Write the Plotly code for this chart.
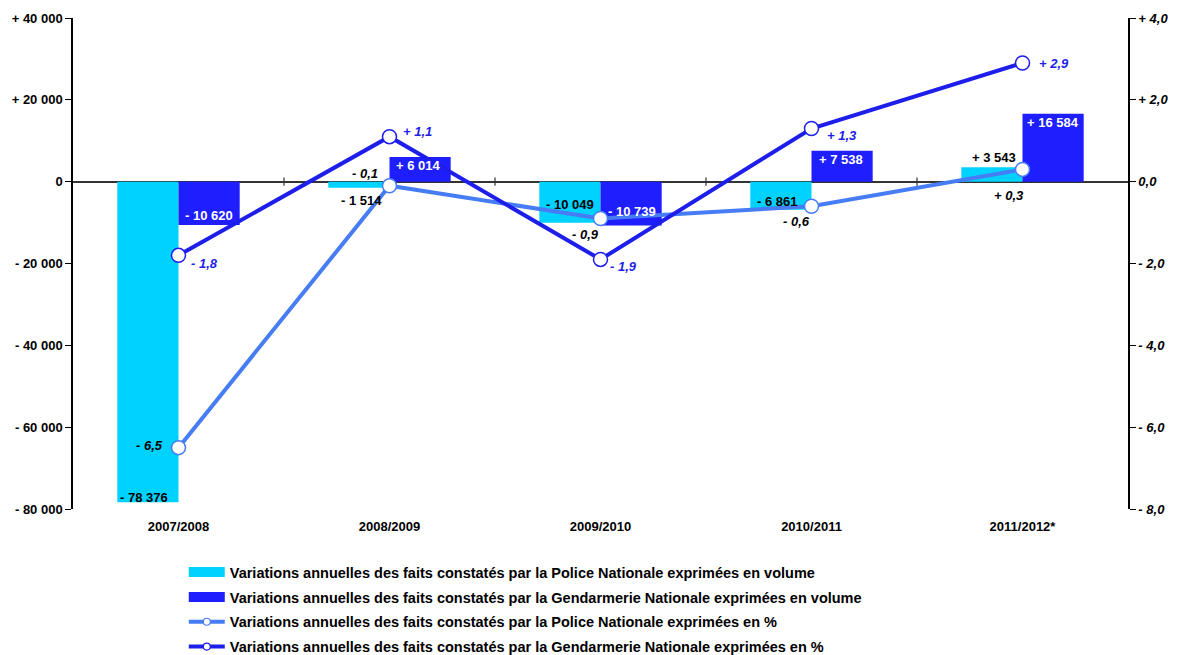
import plotly.graph_objects as go

categories = ["2007/2008", "2008/2009", "2009/2010", "2010/2011", "2011/2012*"]
police_vol = [-78376, -1514, -10049, -6861, 3543]
gend_vol = [-10620, 6014, -10739, 7538, 16584]
police_pct = [-6.5, -0.1, -0.9, -0.6, 0.3]
gend_pct = [-1.8, 1.1, -1.9, 1.3, 2.9]

police_vol_text = ["- 78 376", "- 1 514", "- 10 049", "- 6 861", "+ 3 543"]
gend_vol_text = ["- 10 620", "+ 6 014", "- 10 739", "+ 7 538", "+ 16 584"]
police_pct_text = ["- 6,5", "- 0,1", "- 0,9", "- 0,6", "+ 0,3"]
gend_pct_text = ["- 1,8", "+ 1,1", "- 1,9", "+ 1,3", "+ 2,9"]

left_tickvals = [40000, 20000, 0, -20000, -40000, -60000, -80000]
left_ticktext = ["+ 40 000", "+ 20 000", "0", "- 20 000", "- 40 000", "- 60 000", "- 80 000"]
right_tickvals = [4, 2, 0, -2, -4, -6, -8]
right_ticktext = ["+ 4,0", "+ 2,0", "0,0", "- 2,0", "- 4,0", "- 6,0", "- 8,0"]

legend_names = [
    "Variations annuelles des faits constatés par la Police Nationale exprimées en volume",
    "Variations annuelles des faits constatés par la Gendarmerie Nationale exprimées en volume",
    "Variations annuelles des faits constatés par la Police Nationale exprimées en %",
    "Variations annuelles des faits constatés par la Gendarmerie Nationale exprimées en %",
]

CYAN = "rgb(0,210,255)"
DBLUE = "rgb(30,30,255)"
LBLUE_LINE = "rgb(70,125,245)"
DBLUE_LINE = "rgb(30,30,235)"
FONT = "Liberation Sans, Arial, sans-serif"

fig = go.Figure()

# Bars (legend drawn by proxy traces below)
fig.add_trace(go.Bar(x=categories, y=police_vol, name=legend_names[0],
                     marker=dict(color=CYAN, line=dict(width=0)),
                     showlegend=False, hoverinfo="skip"))
fig.add_trace(go.Bar(x=categories, y=gend_vol, name=legend_names[1],
                     marker=dict(color=DBLUE, line=dict(width=0)),
                     showlegend=False, hoverinfo="skip"))
fig.add_trace(go.Scatter(x=categories, y=police_pct, name=legend_names[2], yaxis="y2",
                         mode="lines+markers", line=dict(color=LBLUE_LINE, width=4),
                         marker=dict(size=14, color="white", line=dict(color=LBLUE_LINE, width=1.5)),
                         cliponaxis=False, showlegend=False, hoverinfo="skip"))
fig.add_trace(go.Scatter(x=categories, y=gend_pct, name=legend_names[3], yaxis="y2",
                         mode="lines+markers", line=dict(color=DBLUE_LINE, width=4),
                         marker=dict(size=14, color="white", line=dict(color=DBLUE_LINE, width=1.5)),
                         cliponaxis=False, showlegend=False, hoverinfo="skip"))

# Legend proxies
fig.add_trace(go.Scatter(x=[None], y=[None], mode="lines", name=legend_names[0],
                         line=dict(color=CYAN, width=10), legendgroup="a"))
fig.add_trace(go.Scatter(x=[None], y=[None], mode="lines", name=legend_names[1],
                         line=dict(color=DBLUE, width=10), legendgroup="b"))
fig.add_trace(go.Scatter(x=[None], y=[None], mode="lines+markers", name=legend_names[2],
                         line=dict(color=LBLUE_LINE, width=4),
                         marker=dict(size=7, color="white", line=dict(color=LBLUE_LINE, width=1.2)),
                         legendgroup="c"))
fig.add_trace(go.Scatter(x=[None], y=[None], mode="lines+markers", name=legend_names[3],
                         line=dict(color=DBLUE_LINE, width=4),
                         marker=dict(size=7, color="white", line=dict(color=DBLUE_LINE, width=1.2)),
                         legendgroup="d"))

annotations = []
BAR_OFF = 30.5
police_vol_shift = [5, -13, 18, 8, 10]
gend_vol_shift = [9.5, -8, 14, -9, -9]
police_vol_xadj = [-4, 2, 0, -4, 2]
gend_vol_xadj = [0, -2, 1, -1, 0]
police_off = [(-29, 2), (-25, 12), (-15, -16), (-15, -15), (-14, -26)]
gend_off = [(26, -8), (28, 5), (23, -7), (30, -7), (31, 0)]

for i in range(len(categories)):
    annotations.append(dict(
        x=categories[i], y=police_vol[i], xref="x", yref="y",
        text="<b>%s</b>" % police_vol_text[i], showarrow=False,
        xshift=-BAR_OFF + police_vol_xadj[i], yshift=police_vol_shift[i],
        font=dict(color="black", size=13, family=FONT)))
    annotations.append(dict(
        x=categories[i], y=gend_vol[i], xref="x", yref="y",
        text="<b>%s</b>" % gend_vol_text[i], showarrow=False,
        xshift=BAR_OFF + gend_vol_xadj[i], yshift=gend_vol_shift[i],
        font=dict(color="white", size=13, family=FONT)))
    annotations.append(dict(
        x=categories[i], y=police_pct[i], xref="x", yref="y2",
        text="<b><i>%s</i></b>" % police_pct_text[i], showarrow=False,
        xshift=police_off[i][0], yshift=police_off[i][1],
        font=dict(color="black", size=13, family=FONT)))
    annotations.append(dict(
        x=categories[i], y=gend_pct[i], xref="x", yref="y2",
        text="<b><i>%s</i></b>" % gend_pct_text[i], showarrow=False,
        xshift=gend_off[i][0], yshift=gend_off[i][1],
        font=dict(color=DBLUE_LINE, size=13, family=FONT)))

shapes = []
for b in [0.5, 1.5, 2.5, 3.5]:
    shapes.append(dict(type="line", xref="x", yref="y", x0=b, x1=b,
                       y0=-1000, y1=1000, line=dict(color="#333333", width=1.2)))

fig.update_layout(
    width=1178, height=655,
    margin=dict(l=73, r=50, t=18, b=146, autoexpand=False),
    paper_bgcolor="white", plot_bgcolor="white",
    barmode="group", bargap=0.42, bargroupgap=0,
    font=dict(family=FONT, size=13, color="black"),
    showlegend=True,
    legend=dict(x=0.105, xanchor="left", y=-0.096, yanchor="top",
                orientation="v", tracegroupgap=3,
                font=dict(size=14.5, family=FONT, weight="bold"),
                bgcolor="rgba(0,0,0,0)", itemwidth=36),
    xaxis=dict(type="category", range=[-0.5, 4.5], showgrid=False,
               showline=False, ticks="", zeroline=False, ticklabelstandoff=8,
               tickfont=dict(size=13, family=FONT, weight="bold")),
    yaxis=dict(range=[-80000, 40000], tickvals=left_tickvals, ticktext=left_ticktext,
               showgrid=False, showline=True, linecolor="black", linewidth=1.5,
               ticks="outside", ticklen=6, tickcolor="black", tickwidth=1.2,
               zeroline=True, zerolinecolor="#333333", zerolinewidth=1.5,
               tickfont=dict(size=13, family=FONT, weight="bold")),
    yaxis2=dict(range=[-8, 4], tickvals=right_tickvals, ticktext=right_ticktext,
                overlaying="y", side="right", showgrid=False, zeroline=False,
                showline=True, linecolor="black", linewidth=1.5,
                ticks="outside", ticklen=6, tickcolor="black", tickwidth=1.2,
                tickfont=dict(size=13, family=FONT, weight="bold", style="italic")),
    annotations=annotations,
    shapes=shapes,
)

fig.write_html("out.html", config={"displayModeBar": False},
               post_script="document.body.style.margin='0';")
